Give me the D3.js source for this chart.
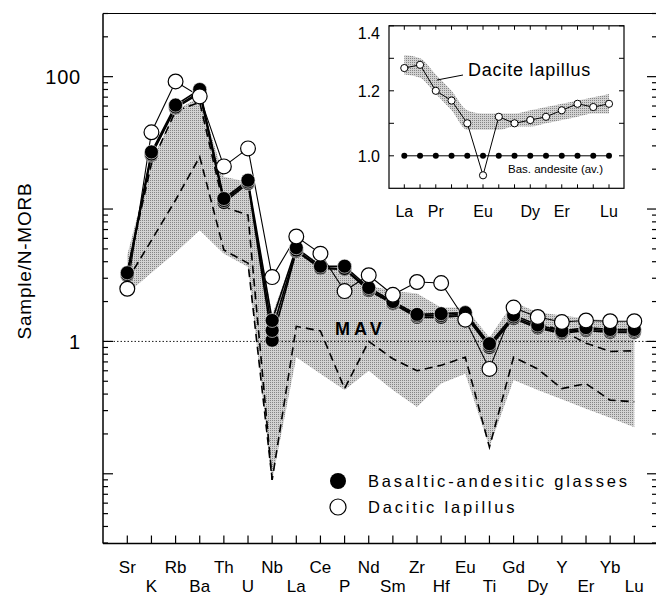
<!DOCTYPE html>
<html>
<head>
<meta charset="utf-8">
<script src="https://cdn.jsdelivr.net/npm/d3@7"></script>
<style>
  html, body { margin: 0; padding: 0; background: #fff; }
  svg { display: block; font-family: "Liberation Sans", Arial, Helvetica, sans-serif; }
</style>
</head>
<body>
<svg id="chart" width="656" height="597"></svg>
<script>
// ---- Spider diagram: element order (N-MORB normalised) ----
const elements = ["Sr","K","Rb","Ba","Th","U","Nb","La","Ce","P","Nd","Sm","Zr","Hf","Eu","Ti","Gd","Dy","Y","Er","Yb","Lu"];

// Basaltic-andesitic glasses (three analyses)
const basalticA = [3.3, 27, 61, 80, 12.0, 16.5, 1.44, 5.1, 3.7, 3.7, 2.55, 2.0, 1.6, 1.62, 1.65, 0.96, 1.58, 1.33, 1.2, 1.27, 1.23, 1.23];
const basalticB = [3.2, 26, 59, 77, 11.6, 16.0, 1.21, 4.9, 3.6, 3.55, 2.48, 1.95, 1.56, 1.57, 1.6, 0.93, 1.53, 1.29, 1.17, 1.24, 1.2, 1.2];
const basalticC = [3.15, 25.5, 58, 75, 11.2, 15.6, 1.02, 4.8, 3.55, 3.5, 2.42, 1.92, 1.52, 1.52, 1.57, 0.9, 1.49, 1.26, 1.15, 1.21, 1.17, 1.17];

// Dacitic lapillus
const dacitic = [2.5, 38, 92, 71, 21, 28.7, 3.06, 6.2, 4.6, 2.4, 3.16, 2.25, 2.81, 2.76, 1.46, 0.62, 1.80, 1.53, 1.40, 1.44, 1.42, 1.42];

// MAV field envelope
const mavUpper = [4.5, 23, 56, 70, 17.5, 16, 1.6, 5.0, 3.9, 3.4, 2.65, 2.4, 2.3, 1.8, 1.8, 1.07, 1.98, 1.66, 1.57, 1.49, 1.44, 1.37];
const mavLower = [2.3, 3.3, 4.7, 6.9, 4.6, 3.65, 0.089, 0.76, 0.57, 0.43, 0.6, 0.43, 0.32, 0.48, 0.57, 0.159, 0.51, 0.43, 0.365, 0.31, 0.265, 0.225];

// Dashed reference patterns (null = not drawn)
const dashedUpper = [3.4, 22, 55, 64, 10.4, 9.0, 0.09, null, null, null, null, null, null, null, null, null, null, 1.37, 1.21, 0.97, 0.84, 0.85];
const dashedLower = [2.9, 5.8, 11.7, 24.8, 4.9, 3.9, 0.09, 1.3, 1.2, 0.44, 1.0, 0.74, 0.6, 0.66, 0.76, 0.159, 0.76, 0.62, 0.44, 0.48, 0.36, 0.35];

// Axis ticks
const yLabelTicks = [1, 100];

// ---- Inset: REE ratio dacite / basaltic andesite ----
const ree = ["La","Ce","Pr","Nd","Sm","Eu","Gd","Tb","Dy","Ho","Er","Tm","Yb","Lu"];
const reeLabels = ["La","Pr","Eu","Dy","Er","Lu"];
const daciteRatio = [1.27, 1.28, 1.20, 1.17, 1.10, 0.94, 1.12, 1.10, 1.11, 1.12, 1.14, 1.16, 1.15, 1.16];
const basAndesiteRatio = [1, 1, 1, 1, 1, 1, 1, 1, 1, 1, 1, 1, 1, 1];
const bandUpper = [1.31, 1.30, 1.25, 1.20, 1.14, 1.13, 1.13, 1.13, 1.14, 1.15, 1.16, 1.17, 1.18, 1.19];
const bandLower = [1.25, 1.24, 1.19, 1.14, 1.08, 1.08, 1.08, 1.09, 1.09, 1.10, 1.11, 1.12, 1.13, 1.13];
const insetTicks = [1.0, 1.1, 1.2, 1.3, 1.4];
const insetTickLabels = [1.0, 1.2, 1.4];

const svg = d3.select("#chart");

// stipple fill
const defs = svg.append("defs");
const pat = defs.append("pattern").attr("id", "stipple").attr("patternUnits", "userSpaceOnUse")
  .attr("width", 2).attr("height", 2);
pat.append("rect").attr("width", 2).attr("height", 2).attr("fill", "#d2d2d2");
pat.append("rect").attr("width", 1).attr("height", 1).attr("fill", "#858585");

const frame = { left: 103, right: 657, top: 13.5, bottom: 543.5 };

const x = d3.scalePoint().domain(elements).range([127.3, 634.3]);
const y = d3.scaleLog().domain([0.03, 300]).range([543, 13.5]);

// MAV field
const area = d3.area()
  .x((d, i) => x(elements[i]))
  .y0((d, i) => y(mavLower[i]))
  .y1(d => y(d));
svg.append("path").datum(mavUpper).attr("d", area).attr("fill", "url(#stipple)");

// reference line at 1
svg.append("line").attr("x1", frame.left).attr("x2", frame.right)
  .attr("y1", y(1)).attr("y2", y(1))
  .attr("stroke", "#000").attr("stroke-width", 0.9).attr("stroke-dasharray", "1.5,2");

// dashed patterns
const dline = d3.line().defined(d => d != null)
  .x((d, i) => x(elements[i])).y(d => y(d));
[dashedUpper, dashedLower].forEach(s => {
  svg.append("path").datum(s).attr("d", dline).attr("fill", "none")
    .attr("stroke", "#000").attr("stroke-width", 1.6).attr("stroke-dasharray", "8,5");
});

// MAV label
svg.append("text").attr("x", 335).attr("y", 335).text("MAV")
  .attr("font-weight", "bold").attr("font-size", 18).attr("letter-spacing", 4);

// axes frame
const ax = svg.append("g").attr("stroke", "#000").attr("fill", "none");
ax.append("line").attr("x1", frame.left).attr("x2", frame.left).attr("y1", frame.top).attr("y2", frame.bottom).attr("stroke-width", 1.5);
ax.append("line").attr("x1", frame.left).attr("x2", frame.right).attr("y1", frame.bottom).attr("y2", frame.bottom).attr("stroke-width", 1.5);
ax.append("line").attr("x1", frame.left).attr("x2", frame.right).attr("y1", frame.top).attr("y2", frame.top).attr("stroke-width", 1.2);
ax.append("line").attr("x1", frame.right).attr("x2", frame.right).attr("y1", frame.top).attr("y2", frame.bottom).attr("stroke-width", 1.2);

// log ticks on left and right
const logTicks = y.ticks();
logTicks.forEach(t => {
  const major = Math.abs(Math.log10(t) - Math.round(Math.log10(t))) < 1e-6;
  const len = major ? 10 : 5;
  const yy = y(t);
  if (yy < frame.top - 0.5) return;
  ax.append("line").attr("x1", frame.left).attr("x2", frame.left + len).attr("y1", yy).attr("y2", yy).attr("stroke-width", 1.2);
  ax.append("line").attr("x1", frame.right).attr("x2", frame.right - len).attr("y1", yy).attr("y2", yy).attr("stroke-width", 1.2);
});

// bottom ticks
elements.forEach(e => {
  ax.append("line").attr("x1", x(e)).attr("x2", x(e)).attr("y1", frame.bottom).attr("y2", frame.bottom - 8).attr("stroke-width", 1.2);
});

// y labels
yLabelTicks.forEach(t => {
  svg.append("text").attr("x", 81).attr("y", y(t)).attr("dy", "0.36em")
    .attr("text-anchor", "end").attr("font-size", 20).attr("letter-spacing", 0.8).text(String(t));
});
svg.append("text").attr("transform", "translate(31,261) rotate(-90)")
  .attr("text-anchor", "middle").attr("font-size", 19).attr("letter-spacing", 0.8).text("Sample/N-MORB");

// x labels (staggered)
elements.forEach((e, i) => {
  svg.append("text").attr("x", x(e)).attr("y", i % 2 === 0 ? 573 : 592)
    .attr("text-anchor", "middle").attr("font-size", 17).text(e);
});

// data lines
const line = d3.line().x((d, i) => x(elements[i])).y(d => y(d));
[basalticA, basalticB, basalticC].forEach(s => {
  svg.append("path").datum(s).attr("d", line).attr("fill", "none")
    .attr("stroke", "#000").attr("stroke-width", 1.6);
});
svg.append("path").datum(dacitic).attr("d", line).attr("fill", "none")
  .attr("stroke", "#000").attr("stroke-width", 1.1);

// points
[basalticC, basalticB, basalticA].forEach(s => {
  svg.append("g").selectAll("circle").data(s).join("circle")
    .attr("cx", (d, i) => x(elements[i])).attr("cy", d => y(d)).attr("r", 7)
    .attr("fill", "#000").attr("stroke", "#fff").attr("stroke-width", 0.6);
});
svg.append("g").selectAll("circle").data(dacitic).join("circle")
  .attr("cx", (d, i) => x(elements[i])).attr("cy", d => y(d)).attr("r", 7.4)
  .attr("fill", "#fff").attr("stroke", "#000").attr("stroke-width", 1.2);

// legend
svg.append("circle").attr("cx", 338).attr("cy", 481).attr("r", 8).attr("fill", "#000");
svg.append("circle").attr("cx", 338).attr("cy", 507).attr("r", 8).attr("fill", "#fff").attr("stroke", "#000").attr("stroke-width", 1.2);
svg.append("text").attr("x", 368).attr("y", 487).attr("font-size", 16.5).attr("letter-spacing", 2.8).text("Basaltic-andesitic glasses");
svg.append("text").attr("x", 368).attr("y", 513).attr("font-size", 16.5).attr("letter-spacing", 2.8).text("Dacitic lapillus");

// ---- inset ----
const inset = { left: 389, right: 624, top: 25.8, bottom: 188.3 };
const xi = d3.scalePoint().domain(ree).range([404.3, 609]);
const yi = d3.scaleLinear().domain([0.9, 1.4]).range([inset.bottom, inset.top]);
const ig = svg.append("g");
ig.append("rect").attr("x", inset.left).attr("y", inset.top)
  .attr("width", inset.right - inset.left).attr("height", inset.bottom - inset.top)
  .attr("fill", "#fff").attr("stroke", "#000").attr("stroke-width", 1.2);

const band = d3.area().x((d, i) => xi(ree[i])).y0((d, i) => yi(bandLower[i])).y1(d => yi(d)).curve(d3.curveMonotoneX);
ig.append("path").datum(bandUpper).attr("d", band).attr("fill", "url(#stipple)");

insetTicks.forEach(t => {
  ig.append("line").attr("x1", inset.left).attr("x2", inset.left + 5).attr("y1", yi(t)).attr("y2", yi(t)).attr("stroke", "#000");
  ig.append("line").attr("x1", inset.right).attr("x2", inset.right - 5).attr("y1", yi(t)).attr("y2", yi(t)).attr("stroke", "#000");
});
ree.forEach(r => {
  ig.append("line").attr("x1", xi(r)).attr("x2", xi(r)).attr("y1", inset.top).attr("y2", inset.top + 4).attr("stroke", "#000");
  ig.append("line").attr("x1", xi(r)).attr("x2", xi(r)).attr("y1", inset.bottom).attr("y2", inset.bottom - 4).attr("stroke", "#000");
});
// tick labels; the top one is kept inside the frame height
insetTickLabels.forEach(t => {
  ig.append("text").attr("x", 380).attr("y", Math.max(yi(t), inset.top + 7)).attr("dy", "0.36em").attr("text-anchor", "end")
    .attr("font-size", 16).text(t.toFixed(1));
});
reeLabels.forEach(r => {
  ig.append("text").attr("x", xi(r)).attr("y", 217).attr("text-anchor", "middle").attr("font-size", 16).text(r);
});

const iline = d3.line().x((d, i) => xi(ree[i])).y(d => yi(d));
ig.append("path").datum(basAndesiteRatio).attr("d", iline).attr("fill", "none").attr("stroke", "#000").attr("stroke-width", 1);
ig.append("path").datum(daciteRatio).attr("d", iline).attr("fill", "none").attr("stroke", "#000").attr("stroke-width", 1);
ig.selectAll(".bd").data(basAndesiteRatio).join("circle").attr("class", "bd")
  .attr("cx", (d, i) => xi(ree[i])).attr("cy", d => yi(d)).attr("r", 3).attr("fill", "#000");
ig.selectAll(".dc").data(daciteRatio).join("circle").attr("class", "dc")
  .attr("cx", (d, i) => xi(ree[i])).attr("cy", d => yi(d)).attr("r", 3.6)
  .attr("fill", "#fff").attr("stroke", "#000").attr("stroke-width", 1);

ig.append("line").attr("x1", 437).attr("y1", 80).attr("x2", 463).attr("y2", 75).attr("stroke", "#000").attr("stroke-width", 1);
ig.append("text").attr("x", 468).attr("y", 76).attr("font-size", 18).attr("letter-spacing", 0.8).text("Dacite lapillus");
ig.append("text").attr("x", 508).attr("y", 173).attr("font-size", 11.5).text("Bas. andesite (av.)");
</script>
</body>
</html>
